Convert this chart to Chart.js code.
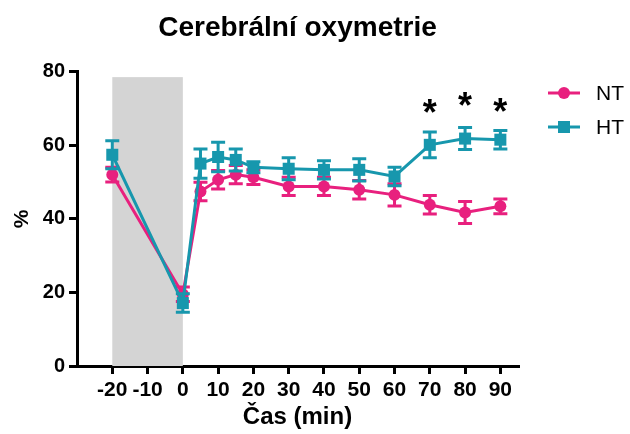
<!DOCTYPE html>
<html>
<head>
<meta charset="utf-8">
<script src="https://cdn.jsdelivr.net/npm/chart.js@4"></script>
<style>
  html, body { margin: 0; padding: 0; background: #fff; }
  #wrap { width: 630px; height: 434px; }
</style>
</head>
<body>
<div id="wrap"><canvas id="chart"></canvas></div>
<script>
// casy mereni (min) a hodnoty
const times = [-20, 0, 5, 10, 15, 20, 30, 40, 50, 60, 70, 80, 90];
const ntMean = [52.0, 19.5, 47.4, 50.6, 52.0, 51.3, 48.8, 48.8, 47.9, 46.5, 43.8, 41.7, 43.4];
const ntErr = [2.0, 2.0, 2.5, 2.5, 2.5, 2.0, 2.5, 2.5, 2.5, 3.0, 2.5, 3.0, 2.0];
const htMean = [57.4, 17.1, 55.0, 56.8, 56.0, 54.0, 53.6, 53.3, 53.3, 51.5, 60.1, 61.8, 61.5];
const htErr = [3.8, 2.5, 4.0, 4.0, 3.0, 1.5, 3.0, 2.5, 3.0, 2.5, 3.5, 3.0, 2.5];
const xTicks = [-20, -10, 0, 10, 20, 30, 40, 50, 60, 70, 80, 90];
const yTicks = [0, 20, 40, 60, 80];
const starTimes = [70, 80, 90];
const starLevel = [70.5, 72.4, 71.0];
const shadeX = [-20, 0];
const shadeY = [0, 78.5];

const NT_COLOR = '#e8207e';
const HT_COLOR = '#1797ad';
const FONT = "'Liberation Sans', Arial, sans-serif";

const toPoints = (ys) => times.map((t, i) => ({ x: t, y: ys[i] }));

// seda oblast (ischemie) pod daty
const shadePlugin = {
  id: 'shade',
  beforeDatasetsDraw(chart) {
    const { ctx, scales: { x, y } } = chart;
    const x0 = x.getPixelForValue(shadeX[0]);
    const x1 = x.getPixelForValue(shadeX[1]);
    const y0 = y.getPixelForValue(shadeY[1]);
    const y1 = y.getPixelForValue(shadeY[0]);
    ctx.save();
    ctx.fillStyle = '#d4d4d4';
    ctx.fillRect(x0, y0, x1 - x0, y1 - y0);
    ctx.restore();
  }
};

// chybove useky (SEM)
const errorPlugin = {
  id: 'errorBars',
  beforeDatasetDraw(chart, args) {
    const ds = chart.data.datasets[args.index];
    if (!ds.errors) return;
    const { ctx, scales: { x, y } } = chart;
    ctx.save();
    ctx.strokeStyle = ds.borderColor;
    ctx.lineWidth = 3;
    ds.data.forEach((p, i) => {
      const px = x.getPixelForValue(p.x);
      const top = y.getPixelForValue(p.y + ds.errors[i]);
      const bot = y.getPixelForValue(p.y - ds.errors[i]);
      ctx.beginPath();
      ctx.moveTo(px, top); ctx.lineTo(px, bot);
      ctx.moveTo(px - 7, top); ctx.lineTo(px + 7, top);
      ctx.moveTo(px - 7, bot); ctx.lineTo(px + 7, bot);
      ctx.stroke();
    });
    ctx.restore();
  }
};

// hvezdicky vyznamnosti
const starPlugin = {
  id: 'stars',
  afterDatasetsDraw(chart) {
    const { ctx, scales: { x, y } } = chart;
    ctx.save();
    ctx.fillStyle = '#000';
    ctx.font = 'bold 36px ' + FONT;
    ctx.textAlign = 'center';
    ctx.textBaseline = 'middle';
    starTimes.forEach((t, i) => {
      ctx.fillText('*', x.getPixelForValue(t), y.getPixelForValue(starLevel[i]) + 9);
    });
    ctx.restore();
  }
};

// legenda vpravo nahore
const legendPlugin = {
  id: 'sideLegend',
  afterDraw(chart) {
    const { ctx } = chart;
    const items = chart.data.datasets;
    ctx.save();
    items.slice().sort((a, b) => a.legendOrder - b.legendOrder).forEach((ds, i) => {
      const cy = 93 + i * 34;
      ctx.strokeStyle = ds.borderColor;
      ctx.fillStyle = ds.borderColor;
      ctx.lineWidth = 3;
      ctx.beginPath();
      ctx.moveTo(548, cy); ctx.lineTo(580, cy);
      ctx.stroke();
      if (ds.pointStyle === 'circle') {
        ctx.beginPath();
        ctx.arc(564, cy, 6, 0, Math.PI * 2);
        ctx.fill();
      } else {
        ctx.fillRect(558, cy - 6, 12, 12);
      }
      ctx.fillStyle = '#000';
      ctx.font = '21px ' + FONT;
      ctx.textAlign = 'left';
      ctx.textBaseline = 'middle';
      ctx.fillText(ds.label, 596, cy + 1);
    });
    ctx.restore();
  }
};

const axisStyle = {
  grid: { display: true, drawOnChartArea: false, drawTicks: true, tickLength: 8, color: '#000', lineWidth: 3 },
  border: { display: true, color: '#000', width: 3 }
};

new Chart(document.getElementById('chart'), {
  type: 'line',
  data: {
    datasets: [
      {
        label: 'HT',
        legendOrder: 1,
        data: toPoints(htMean),
        errors: htErr,
        borderColor: HT_COLOR,
        backgroundColor: HT_COLOR,
        borderWidth: 3,
        pointStyle: 'rect',
        pointRadius: 8.5,
        pointBorderWidth: 0,
        fill: false,
        tension: 0,
        clip: false
      },
      {
        label: 'NT',
        legendOrder: 0,
        data: toPoints(ntMean),
        errors: ntErr,
        borderColor: NT_COLOR,
        backgroundColor: NT_COLOR,
        borderWidth: 3,
        pointStyle: 'circle',
        pointRadius: 6,
        pointBorderWidth: 0,
        fill: false,
        tension: 0,
        clip: false
      }
    ]
  },
  options: {
    responsive: true,
    maintainAspectRatio: false,
    animation: false,
    layout: { padding: { top: 0, right: 112, bottom: 0, left: 0 } },
    scales: {
      x: {
        type: 'linear',
        min: -30,
        max: 95,
        afterBuildTicks: (s) => { s.ticks = xTicks.map(v => ({ value: v })); },
        afterFit: (s) => { s.height = 68; },
        ticks: { color: '#000', font: { family: FONT, size: 21, weight: 'bold' }, padding: 4, maxRotation: 0, autoSkip: false },
        title: { display: true, text: 'Čas (min)', color: '#000', font: { family: FONT, size: 24, weight: 'bold' }, padding: { top: 0, bottom: 2 } },
        ...axisStyle
      },
      y: {
        min: 0,
        max: 80,
        afterBuildTicks: (s) => { s.ticks = yTicks.map(v => ({ value: v })); },
        afterFit: (s) => { s.width = 77; },
        ticks: { color: '#000', font: { family: FONT, size: 20, weight: 'bold' }, padding: 4 },
        title: { display: true, text: '%', color: '#000', font: { family: FONT, size: 21, weight: 'bold' }, padding: { top: 10, bottom: 0 } },
        ...axisStyle
      }
    },
    plugins: {
      legend: { display: false },
      tooltip: { enabled: false },
      title: {
        display: true,
        fullSize: false,
        text: 'Cerebrální oxymetrie',
        color: '#000',
        font: { family: FONT, size: 28, weight: 'bold' },
        padding: { top: 11, bottom: 27 }
      }
    }
  },
  plugins: [shadePlugin, errorPlugin, starPlugin, legendPlugin]
});
</script>
</body>
</html>
